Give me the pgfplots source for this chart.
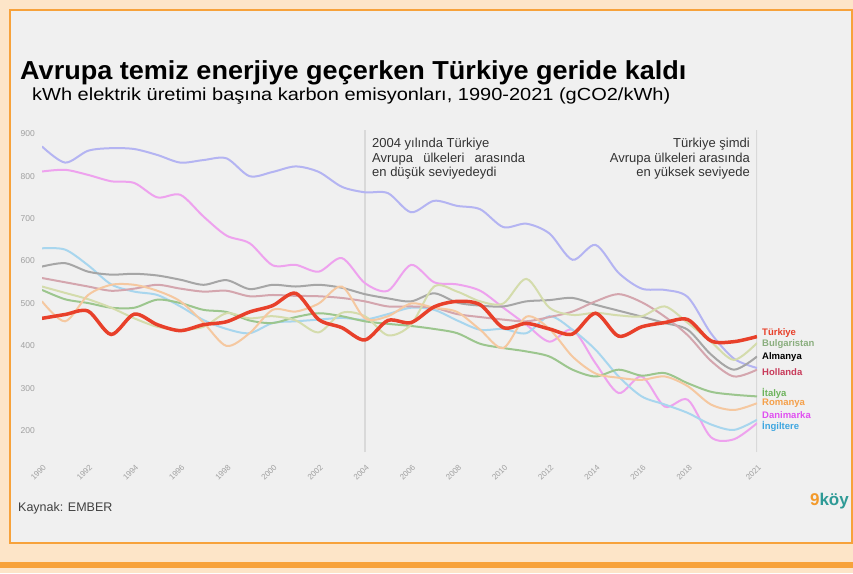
\documentclass[border=0pt]{standalone}
\usepackage{fontspec}
\setmainfont{Liberation Sans}
\usepackage{pgfplots}
\pgfplotsset{compat=1.18}
\usepackage{pgfplotstable}

\definecolor{peach}{HTML}{FDE5C8}
\definecolor{panel}{HTML}{F0F0F0}
\definecolor{frame}{HTML}{F7A23B}
\definecolor{tickgray}{HTML}{A0A0A0}
\definecolor{vline}{HTML}{D9D9D9}
\definecolor{cGR}{HTML}{B4B4F2}
\definecolor{cDK}{HTML}{EEA2EE}
\definecolor{cUK}{HTML}{A8D6EE}
\definecolor{cDE}{HTML}{A6A6A6}
\definecolor{cNL}{HTML}{D4A6AE}
\definecolor{cIT}{HTML}{9CC68E}
\definecolor{cBG}{HTML}{D4DCAC}
\definecolor{cRO}{HTML}{F5C8A0}
\definecolor{cTR}{HTML}{E8402A}
\definecolor{lBG}{HTML}{8AAE7E}
\definecolor{lNL}{HTML}{C83A5A}
\definecolor{lIT}{HTML}{6DB35C}
\definecolor{lRO}{HTML}{F5A04A}
\definecolor{lDK}{HTML}{E050F0}
\definecolor{lUK}{HTML}{3EA6E0}
\definecolor{logoteal}{HTML}{2E9A96}
\definecolor{logoorange}{HTML}{F39A2B}

\pgfplotstableread{
year GR DK UK DE NL IT BG RO TR
1990 870 811 630 587 560 532 540 505 465
1991 832 815 627 595 550 510 525 458 474
1992 860 803 590 575 540 501 510 520 482
1993 866 788 545 568 530 490 490 544 427
1994 864 784 528 570 535 490 465 544 475
1995 850 750 520 566 544 509 445 530 450
1996 832 756 493 556 535 501 438 505 436
1997 838 705 461 544 528 485 445 455 450
1998 842 660 440 555 530 480 477 400 457
1999 800 642 430 534 517 460 465 430 480
2000 810 590 454 544 520 454 470 485 495
2001 823 591 458 540 518 468 460 481 524
2002 810 575 462 544 517 477 432 500 462
2003 775 607 466 537 513 470 478 540 443
2004 762 548 462 522 505 458 470 465 414
2005 760 530 475 512 493 452 425 470 460
2006 715 591 490 505 493 447 450 500 455
2007 742 550 485 524 490 440 540 490 492
2008 730 545 460 502 475 430 528 480 505
2009 722 530 438 495 468 405 505 438 497
2010 680 490 440 493 462 395 500 395 443
2011 688 450 430 505 458 387 558 469 453
2012 665 410 470 508 468 375 490 440 440
2013 603 438 438 513 481 344 473 375 428
2014 638 359 391 497 505 328 478 335 477
2015 572 289 328 483 522 344 472 325 423
2016 535 328 281 469 503 330 470 320 445
2017 532 257 262 454 469 336 493 328 455
2018 515 273 242 438 425 312 454 305 462
2019 430 185 215 380 365 292 410 262 412
2020 370 180 202 344 328 285 367 249 410
2021 348 218 226 375 344 281 407 265 422
}\data

\begin{document}
\begin{tikzpicture}[x=1pt,y=1pt]
% background
\fill[peach] (0,0) rectangle (853,573);
\fill[panel] (10,30) rectangle (851.5,563);
\draw[frame, line width=2pt] (10,30) rectangle (851.5,563);
\fill[frame] (0,5) rectangle (853,11);

% titles
\node[anchor=base west, inner sep=0pt, font=\fontsize{26}{30}\selectfont\bfseries] at (20,493) {\scalebox{1.04}[1]{Avrupa temiz enerjiye geçerken Türkiye geride kaldı}};
\node[anchor=base west, inner sep=0pt, font=\fontsize{17.5}{20}\selectfont] at (32,472) {\scalebox{1.143}[1]{kWh elektrik üretimi başına karbon emisyonları, 1990-2021 (gCO2/kWh)}};

\begin{axis}[
  at={(42pt,121pt)}, anchor=south west,
  scale only axis, width=715pt, height=322.5pt,
  xmin=1990, xmax=2021, ymin=150, ymax=910,
  axis line style={draw=none}, tick style={draw=none},
  xtick={1990,1992,...,2018,2021},
  ytick={200,300,...,900},
  /pgf/number format/assume math mode=true,
  x tick label style={/pgf/number format/1000 sep={}},
  xticklabel style={rotate=45, anchor=east, inner sep=0pt, xshift=-8pt, yshift=-12pt, font=\fontsize{8}{9}\selectfont, text=tickgray},
  yticklabel style={anchor=east, inner sep=0pt, xshift=-7pt, font=\fontsize{8.5}{10}\selectfont, text=tickgray},
  every axis plot/.append style={smooth, no markers, line width=2pt},
]
\draw[vline, line width=1.5pt] (axis cs:2004,150) -- (axis cs:2004,910);
\draw[vline, line width=1.5pt] (axis cs:2021,150) -- (axis cs:2021,910);
\addplot[cGR] table[x=year,y=GR] {\data};
\addplot[cDK] table[x=year,y=DK] {\data};
\addplot[cUK] table[x=year,y=UK] {\data};
\addplot[cDE] table[x=year,y=DE] {\data};
\addplot[cNL] table[x=year,y=NL] {\data};
\addplot[cIT] table[x=year,y=IT] {\data};
\addplot[cBG] table[x=year,y=BG] {\data};
\addplot[cRO] table[x=year,y=RO] {\data};
\addplot[cTR, line width=3.5pt] table[x=year,y=TR] {\data};
\end{axis}

% annotations
\begin{scope}[every node/.style={inner sep=0pt, font=\fontsize{13}{14}\selectfont, text=black!80}]
\node[anchor=base west] at (372,425) {2004 yılında Türkiye};
\node[anchor=base west] at (372,410.5) {\makebox[153pt][s]{Avrupa ülkeleri arasında}};
\node[anchor=base west] at (372,396) {en düşük seviyedeydi};
\node[anchor=base east] at (750,425) {Türkiye şimdi};
\node[anchor=base east] at (750,410.5) {Avrupa ülkeleri arasında};
\node[anchor=base east] at (750,396) {en yüksek seviyede};
\end{scope}

% series labels
\begin{scope}[every node/.style={inner sep=0pt, anchor=west, font=\fontsize{9.5}{11}\selectfont\bfseries}]
\node[text=cTR] at (762,240) {Türkiye};
\node[text=lBG] at (762,229) {Bulgaristan};
\node[text=black] at (762,216) {Almanya};
\node[text=lNL] at (762,201) {Hollanda};
\node[text=lIT] at (762,180) {İtalya};
\node[text=lRO] at (762,170) {Romanya};
\node[text=lDK] at (762,158) {Danimarka};
\node[text=lUK] at (762,147) {İngiltere};
\end{scope}

% footer
\node[anchor=west, inner sep=0pt, font=\fontsize{12.5}{14}\selectfont, text=black!75] at (18,65) {Kaynak: EMBER};
\node[anchor=east, inner sep=0pt, font=\fontsize{17}{20}\selectfont\bfseries] at (849,72) {{\color{logoorange}9}{\color{logoteal}köy}};
\end{tikzpicture}
\end{document}
